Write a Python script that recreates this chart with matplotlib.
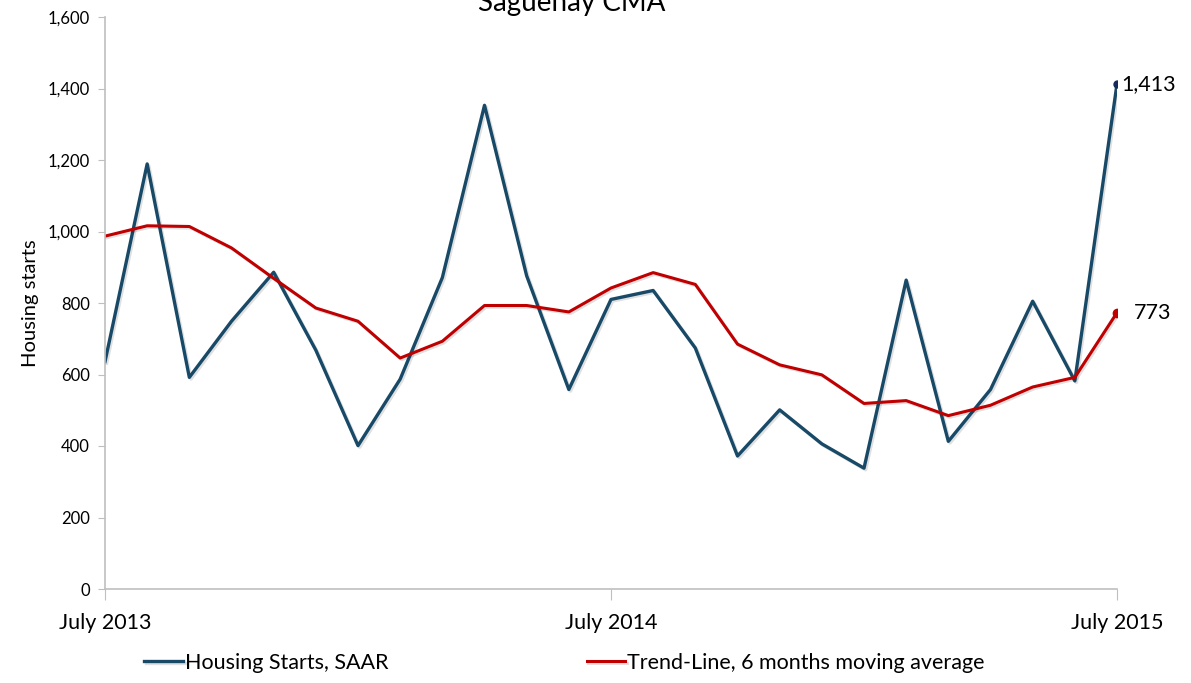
import numpy as np
import matplotlib
matplotlib.use("Agg")
import matplotlib.pyplot as plt
import matplotlib.patheffects as pe
from matplotlib.ticker import FuncFormatter

plt.rcParams['font.family'] = ['Lato', 'DejaVu Sans']

months = list(range(25))  # July 2013 .. July 2015
tick_pos = [0, 12, 24]
tick_labels = ['July 2013', 'July 2014', 'July 2015']

starts = [636, 1189, 592, 749, 886, 668, 401, 587, 871, 1353, 876, 558, 810,
          835, 674, 372, 501, 406, 338, 864, 413, 558, 805, 582, 1413]
trend = [987, 1016, 1014, 954, 869, 786, 749, 646, 693, 793, 793, 775, 842,
         885, 852, 685, 627, 599, 519, 527, 485, 514, 565, 592, 773]

blue = '#184a68'
red = '#c00000'
grey = '#bfbfbf'

fig = plt.figure(figsize=(11.91, 6.83), dpi=100)
ax = fig.add_axes([105 / 1191, 1 - 589 / 683, (1117 - 105) / 1191, (589 - 17) / 683])

shadow = [pe.SimpleLineShadow(offset=(1.2, -1.2), alpha=0.12), pe.Normal()]
ax.plot(months, starts, color=blue, lw=2.4, label='Housing Starts, SAAR',
        path_effects=shadow)
ax.plot(months, trend, color=red, lw=2.2, label='Trend-Line, 6 months moving average',
        path_effects=shadow)

ax.plot(months[-1], starts[-1], 'o', color='#14295e', ms=5)
ax.plot(months[-1], trend[-1], 'o', color=red, ms=6)
ax.annotate(f'{starts[-1]:,}', (months[-1], starts[-1]), xytext=(3, 0),
            textcoords='offset points', va='center', ha='left', fontsize=15.5)
ax.annotate(f'{trend[-1]:,}', (months[-1], trend[-1]), xytext=(12, 0),
            textcoords='offset points', va='center', ha='left', fontsize=15.5)

ax.set_xlim(0, 24)
ax.set_ylim(0, 1600)
ax.set_yticks(np.arange(0, 1601, 200))
ax.yaxis.set_major_formatter(FuncFormatter(lambda v, p: f'{int(v):,}'))
ax.set_xticks(tick_pos)
ax.set_xticklabels(tick_labels)

for s in ['top', 'right']:
    ax.spines[s].set_visible(False)
for s in ['left', 'bottom']:
    ax.spines[s].set_color(grey)
    ax.spines[s].set_linewidth(1.2)
ax.tick_params(axis='y', direction='out', length=5, color=grey, labelsize=12, pad=6)
ax.tick_params(axis='x', direction='out', length=8, color=grey, labelsize=15.5, pad=9)
ax.set_ylabel('Housing starts', fontsize=14.5, labelpad=6)

fig.text(572 / 1191, 1 - 11 / 683, 'Saguenay CMA', ha='center', va='baseline', fontsize=20)

fig.legend(loc='center', bbox_to_anchor=(0.474, 1 - 663 / 683), ncol=2, frameon=False,
           fontsize=15.5, handlelength=1.8, handletextpad=0.1, columnspacing=9.2)

fig.savefig('out.png', dpi=100)
